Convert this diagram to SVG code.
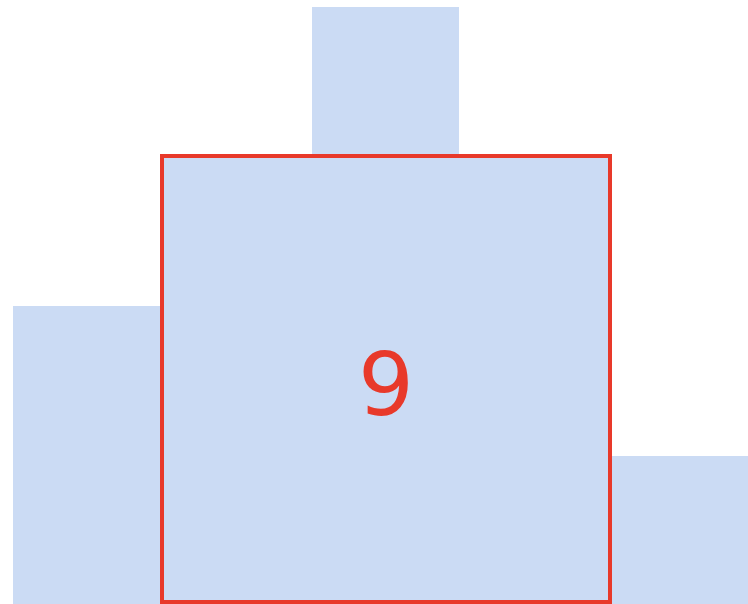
<svg xmlns="http://www.w3.org/2000/svg" width="748" height="604" viewBox="0 0 748 604">
<style>
.bar{fill:#cbdbf4}
.hl{fill:#cbdbf4;stroke:#e8392a;stroke-width:4}
.lbl{font-family:"DejaVu Sans",sans-serif;font-size:88px;fill:#e8392a;text-anchor:middle}
</style>
<rect width="748" height="604" fill="#ffffff"/>
<g id="bar-top"><rect class="bar" x="312" y="7" width="147" height="150"/></g>
<g id="bar-left"><rect class="bar" x="13" y="306" width="150" height="298"/></g>
<g id="bar-right"><rect class="bar" x="609" y="456" width="139" height="148"/></g>
<g id="center"><rect class="hl" x="162" y="156" width="448" height="446"/>
<text class="lbl" x="386" y="415">9</text></g>
</svg>
